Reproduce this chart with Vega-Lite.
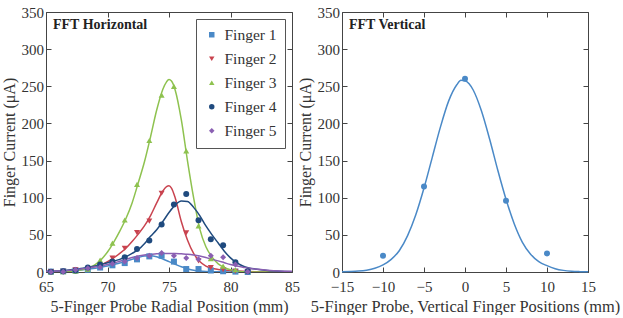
{
  "$schema": "https://vega.github.io/schema/vega-lite/v6.json",
  "padding": {"left": 0, "top": 4, "right": 0, "bottom": 0},
  "spacing": -4,
  "config": {
    "font": "Liberation Serif",
    "view": {"stroke": "#444", "strokeWidth": 1},
    "axis": {"grid": false, "domain": false, "labelFlush": false, "labelFontSize": 15, "titleFontSize": 16, "labelColor": "#333", "titleColor": "#333", "tickColor": "#444", "tickSize": -5, "labelPadding": 7.5, "titleFontWeight": "normal", "labelFont": "Liberation Serif", "titleFont": "Liberation Serif"},
    "axisBottom": {"labelPadding": 12},
    "legend": {"labelFont": "Liberation Serif", "titleFont": "Liberation Serif"},
    "title": {"font": "Liberation Serif", "fontSize": 14, "fontWeight": "bold", "color": "#222"}
  },
  "datasets": {
    "ptsH": [
      {"finger": "Finger 1", "pos": 65.4, "current": 0.5}, {"finger": "Finger 1", "pos": 66.4, "current": 1}, {"finger": "Finger 1", "pos": 67.4, "current": 2}, {"finger": "Finger 1", "pos": 68.4, "current": 3}, {"finger": "Finger 1", "pos": 69.4, "current": 6}, {"finger": "Finger 1", "pos": 70.4, "current": 9}, {"finger": "Finger 1", "pos": 71.4, "current": 12}, {"finger": "Finger 1", "pos": 72.4, "current": 17}, {"finger": "Finger 1", "pos": 73.4, "current": 21}, {"finger": "Finger 1", "pos": 74.4, "current": 22}, {"finger": "Finger 1", "pos": 75.4, "current": 14}, {"finger": "Finger 1", "pos": 76.4, "current": 4}, {"finger": "Finger 1", "pos": 77.4, "current": 4}, {"finger": "Finger 1", "pos": 78.4, "current": 2}, {"finger": "Finger 1", "pos": 79.4, "current": 1}, {"finger": "Finger 1", "pos": 80.4, "current": 0.5}, {"finger": "Finger 1", "pos": 81.4, "current": 0},
      {"finger": "Finger 2", "pos": 65.4, "current": 0.5}, {"finger": "Finger 2", "pos": 66.4, "current": 1}, {"finger": "Finger 2", "pos": 67.4, "current": 3}, {"finger": "Finger 2", "pos": 68.4, "current": 4}, {"finger": "Finger 2", "pos": 69.4, "current": 8}, {"finger": "Finger 2", "pos": 70.4, "current": 18.7}, {"finger": "Finger 2", "pos": 71.4, "current": 32}, {"finger": "Finger 2", "pos": 72.4, "current": 53}, {"finger": "Finger 2", "pos": 73.4, "current": 68.5}, {"finger": "Finger 2", "pos": 74.4, "current": 106}, {"finger": "Finger 2", "pos": 76.4, "current": 52.6}, {"finger": "Finger 2", "pos": 77.4, "current": 15}, {"finger": "Finger 2", "pos": 78.4, "current": 6}, {"finger": "Finger 2", "pos": 79.4, "current": 3}, {"finger": "Finger 2", "pos": 80.4, "current": 1}, {"finger": "Finger 2", "pos": 81.4, "current": 0.5},
      {"finger": "Finger 3", "pos": 65.4, "current": 0}, {"finger": "Finger 3", "pos": 66.4, "current": 0.5}, {"finger": "Finger 3", "pos": 67.4, "current": 1}, {"finger": "Finger 3", "pos": 68.4, "current": 4}, {"finger": "Finger 3", "pos": 69.4, "current": 16}, {"finger": "Finger 3", "pos": 70.4, "current": 39}, {"finger": "Finger 3", "pos": 71.4, "current": 70}, {"finger": "Finger 3", "pos": 72.4, "current": 118}, {"finger": "Finger 3", "pos": 73.4, "current": 177}, {"finger": "Finger 3", "pos": 74.4, "current": 238}, {"finger": "Finger 3", "pos": 75.4, "current": 250}, {"finger": "Finger 3", "pos": 76.4, "current": 163}, {"finger": "Finger 3", "pos": 77.4, "current": 62}, {"finger": "Finger 3", "pos": 78.4, "current": 18}, {"finger": "Finger 3", "pos": 79.4, "current": 8}, {"finger": "Finger 3", "pos": 80.4, "current": 3}, {"finger": "Finger 3", "pos": 81.4, "current": 1},
      {"finger": "Finger 4", "pos": 65.4, "current": 0.5}, {"finger": "Finger 4", "pos": 66.4, "current": 1}, {"finger": "Finger 4", "pos": 67.4, "current": 2}, {"finger": "Finger 4", "pos": 68.4, "current": 6}, {"finger": "Finger 4", "pos": 69.4, "current": 10}, {"finger": "Finger 4", "pos": 70.4, "current": 14}, {"finger": "Finger 4", "pos": 71.4, "current": 20}, {"finger": "Finger 4", "pos": 72.4, "current": 31}, {"finger": "Finger 4", "pos": 73.4, "current": 42.5}, {"finger": "Finger 4", "pos": 74.4, "current": 64}, {"finger": "Finger 4", "pos": 75.4, "current": 91}, {"finger": "Finger 4", "pos": 76.4, "current": 105}, {"finger": "Finger 4", "pos": 77.4, "current": 69.5}, {"finger": "Finger 4", "pos": 78.4, "current": 44}, {"finger": "Finger 4", "pos": 79.4, "current": 36}, {"finger": "Finger 4", "pos": 80.4, "current": 13}, {"finger": "Finger 4", "pos": 81.4, "current": 1},
      {"finger": "Finger 5", "pos": 65.4, "current": 0}, {"finger": "Finger 5", "pos": 66.4, "current": 0.5}, {"finger": "Finger 5", "pos": 67.4, "current": 3}, {"finger": "Finger 5", "pos": 68.4, "current": 5}, {"finger": "Finger 5", "pos": 69.4, "current": 6.5}, {"finger": "Finger 5", "pos": 70.4, "current": 11}, {"finger": "Finger 5", "pos": 71.4, "current": 14}, {"finger": "Finger 5", "pos": 72.4, "current": 19}, {"finger": "Finger 5", "pos": 73.4, "current": 22}, {"finger": "Finger 5", "pos": 74.4, "current": 25.5}, {"finger": "Finger 5", "pos": 75.4, "current": 22}, {"finger": "Finger 5", "pos": 76.4, "current": 18.7}, {"finger": "Finger 5", "pos": 77.4, "current": 17}, {"finger": "Finger 5", "pos": 78.4, "current": 22}, {"finger": "Finger 5", "pos": 79.4, "current": 20}, {"finger": "Finger 5", "pos": 80.4, "current": 10}, {"finger": "Finger 5", "pos": 81.4, "current": 0.5}
    ],
    "fitH": [
      {"curve": "Finger 1", "pos": 65, "current": 0.3}, {"curve": "Finger 1", "pos": 66, "current": 0.6}, {"curve": "Finger 1", "pos": 67, "current": 1.5}, {"curve": "Finger 1", "pos": 68, "current": 3}, {"curve": "Finger 1", "pos": 69, "current": 5}, {"curve": "Finger 1", "pos": 69.5, "current": 6.5}, {"curve": "Finger 1", "pos": 70, "current": 8}, {"curve": "Finger 1", "pos": 70.5, "current": 10}, {"curve": "Finger 1", "pos": 71, "current": 12}, {"curve": "Finger 1", "pos": 71.5, "current": 14.5}, {"curve": "Finger 1", "pos": 72, "current": 17}, {"curve": "Finger 1", "pos": 72.5, "current": 19.5}, {"curve": "Finger 1", "pos": 73, "current": 21.5}, {"curve": "Finger 1", "pos": 73.5, "current": 22}, {"curve": "Finger 1", "pos": 74, "current": 20.5}, {"curve": "Finger 1", "pos": 74.5, "current": 17.5}, {"curve": "Finger 1", "pos": 75, "current": 14}, {"curve": "Finger 1", "pos": 75.5, "current": 10.5}, {"curve": "Finger 1", "pos": 76, "current": 7}, {"curve": "Finger 1", "pos": 76.5, "current": 4.5}, {"curve": "Finger 1", "pos": 77, "current": 2.5}, {"curve": "Finger 1", "pos": 77.5, "current": 1.3}, {"curve": "Finger 1", "pos": 78, "current": 0.7}, {"curve": "Finger 1", "pos": 79, "current": 0.3}, {"curve": "Finger 1", "pos": 80, "current": 0.1}, {"curve": "Finger 1", "pos": 85, "current": 0},
      {"curve": "Finger 2", "pos": 65, "current": 0.5}, {"curve": "Finger 2", "pos": 66, "current": 1}, {"curve": "Finger 2", "pos": 67, "current": 2}, {"curve": "Finger 2", "pos": 68, "current": 4}, {"curve": "Finger 2", "pos": 69, "current": 7.5}, {"curve": "Finger 2", "pos": 69.5, "current": 10}, {"curve": "Finger 2", "pos": 70, "current": 14}, {"curve": "Finger 2", "pos": 70.5, "current": 19}, {"curve": "Finger 2", "pos": 71, "current": 25}, {"curve": "Finger 2", "pos": 71.5, "current": 32}, {"curve": "Finger 2", "pos": 72, "current": 41}, {"curve": "Finger 2", "pos": 72.5, "current": 51}, {"curve": "Finger 2", "pos": 73, "current": 62}, {"curve": "Finger 2", "pos": 73.5, "current": 76}, {"curve": "Finger 2", "pos": 74, "current": 93}, {"curve": "Finger 2", "pos": 74.5, "current": 109}, {"curve": "Finger 2", "pos": 74.8, "current": 115}, {"curve": "Finger 2", "pos": 75, "current": 116}, {"curve": "Finger 2", "pos": 75.2, "current": 113}, {"curve": "Finger 2", "pos": 75.5, "current": 100}, {"curve": "Finger 2", "pos": 76, "current": 68}, {"curve": "Finger 2", "pos": 76.5, "current": 43}, {"curve": "Finger 2", "pos": 77, "current": 25}, {"curve": "Finger 2", "pos": 77.5, "current": 14}, {"curve": "Finger 2", "pos": 78, "current": 8}, {"curve": "Finger 2", "pos": 78.5, "current": 5}, {"curve": "Finger 2", "pos": 79, "current": 3.5}, {"curve": "Finger 2", "pos": 80, "current": 2}, {"curve": "Finger 2", "pos": 81, "current": 1}, {"curve": "Finger 2", "pos": 82, "current": 0.5}, {"curve": "Finger 2", "pos": 85, "current": 0},
      {"curve": "Finger 3", "pos": 65, "current": 0}, {"curve": "Finger 3", "pos": 66, "current": 0.3}, {"curve": "Finger 3", "pos": 67, "current": 1}, {"curve": "Finger 3", "pos": 67.5, "current": 2}, {"curve": "Finger 3", "pos": 68, "current": 3.5}, {"curve": "Finger 3", "pos": 68.5, "current": 6}, {"curve": "Finger 3", "pos": 69, "current": 10}, {"curve": "Finger 3", "pos": 69.5, "current": 17}, {"curve": "Finger 3", "pos": 70, "current": 27}, {"curve": "Finger 3", "pos": 70.5, "current": 40}, {"curve": "Finger 3", "pos": 71, "current": 55}, {"curve": "Finger 3", "pos": 71.5, "current": 72}, {"curve": "Finger 3", "pos": 72, "current": 93}, {"curve": "Finger 3", "pos": 72.5, "current": 120}, {"curve": "Finger 3", "pos": 73, "current": 148}, {"curve": "Finger 3", "pos": 73.5, "current": 182}, {"curve": "Finger 3", "pos": 74, "current": 218}, {"curve": "Finger 3", "pos": 74.5, "current": 246}, {"curve": "Finger 3", "pos": 74.8, "current": 256}, {"curve": "Finger 3", "pos": 75, "current": 259}, {"curve": "Finger 3", "pos": 75.2, "current": 257}, {"curve": "Finger 3", "pos": 75.5, "current": 245}, {"curve": "Finger 3", "pos": 76, "current": 205}, {"curve": "Finger 3", "pos": 76.5, "current": 150}, {"curve": "Finger 3", "pos": 77, "current": 100}, {"curve": "Finger 3", "pos": 77.5, "current": 58}, {"curve": "Finger 3", "pos": 78, "current": 34}, {"curve": "Finger 3", "pos": 78.5, "current": 20}, {"curve": "Finger 3", "pos": 79, "current": 11}, {"curve": "Finger 3", "pos": 79.5, "current": 6}, {"curve": "Finger 3", "pos": 80, "current": 3}, {"curve": "Finger 3", "pos": 80.5, "current": 1.5}, {"curve": "Finger 3", "pos": 81, "current": 0.5}, {"curve": "Finger 3", "pos": 82, "current": 0}, {"curve": "Finger 3", "pos": 85, "current": 0},
      {"curve": "Finger 4", "pos": 65, "current": 1}, {"curve": "Finger 4", "pos": 66, "current": 1.5}, {"curve": "Finger 4", "pos": 67, "current": 3}, {"curve": "Finger 4", "pos": 68, "current": 5}, {"curve": "Finger 4", "pos": 69, "current": 8}, {"curve": "Finger 4", "pos": 70, "current": 12.5}, {"curve": "Finger 4", "pos": 71, "current": 17}, {"curve": "Finger 4", "pos": 71.5, "current": 20.5}, {"curve": "Finger 4", "pos": 72, "current": 25}, {"curve": "Finger 4", "pos": 72.5, "current": 30}, {"curve": "Finger 4", "pos": 73, "current": 38}, {"curve": "Finger 4", "pos": 73.5, "current": 48}, {"curve": "Finger 4", "pos": 74, "current": 57}, {"curve": "Finger 4", "pos": 74.5, "current": 68}, {"curve": "Finger 4", "pos": 75, "current": 80}, {"curve": "Finger 4", "pos": 75.5, "current": 90}, {"curve": "Finger 4", "pos": 76, "current": 95.5}, {"curve": "Finger 4", "pos": 76.5, "current": 95}, {"curve": "Finger 4", "pos": 77, "current": 87}, {"curve": "Finger 4", "pos": 77.5, "current": 76}, {"curve": "Finger 4", "pos": 78, "current": 62}, {"curve": "Finger 4", "pos": 78.5, "current": 50}, {"curve": "Finger 4", "pos": 79, "current": 39}, {"curve": "Finger 4", "pos": 79.5, "current": 28}, {"curve": "Finger 4", "pos": 80, "current": 19}, {"curve": "Finger 4", "pos": 80.5, "current": 12.5}, {"curve": "Finger 4", "pos": 81, "current": 8}, {"curve": "Finger 4", "pos": 81.5, "current": 5.5}, {"curve": "Finger 4", "pos": 82, "current": 4}, {"curve": "Finger 4", "pos": 83, "current": 2}, {"curve": "Finger 4", "pos": 84, "current": 1}, {"curve": "Finger 4", "pos": 85, "current": 0.5},
      {"curve": "Finger 5", "pos": 65, "current": 1}, {"curve": "Finger 5", "pos": 66, "current": 1.5}, {"curve": "Finger 5", "pos": 67, "current": 2.5}, {"curve": "Finger 5", "pos": 68, "current": 4.5}, {"curve": "Finger 5", "pos": 69, "current": 7}, {"curve": "Finger 5", "pos": 70, "current": 10}, {"curve": "Finger 5", "pos": 70.5, "current": 12}, {"curve": "Finger 5", "pos": 71, "current": 14.5}, {"curve": "Finger 5", "pos": 71.5, "current": 17}, {"curve": "Finger 5", "pos": 72, "current": 19.5}, {"curve": "Finger 5", "pos": 72.5, "current": 21.5}, {"curve": "Finger 5", "pos": 73, "current": 23}, {"curve": "Finger 5", "pos": 73.5, "current": 24}, {"curve": "Finger 5", "pos": 74, "current": 24.5}, {"curve": "Finger 5", "pos": 74.5, "current": 25}, {"curve": "Finger 5", "pos": 75, "current": 25}, {"curve": "Finger 5", "pos": 75.5, "current": 25}, {"curve": "Finger 5", "pos": 76, "current": 24.5}, {"curve": "Finger 5", "pos": 76.5, "current": 24}, {"curve": "Finger 5", "pos": 77, "current": 23}, {"curve": "Finger 5", "pos": 77.5, "current": 21.5}, {"curve": "Finger 5", "pos": 78, "current": 19.5}, {"curve": "Finger 5", "pos": 78.5, "current": 17}, {"curve": "Finger 5", "pos": 79, "current": 15}, {"curve": "Finger 5", "pos": 79.5, "current": 12.5}, {"curve": "Finger 5", "pos": 80, "current": 10}, {"curve": "Finger 5", "pos": 80.5, "current": 8}, {"curve": "Finger 5", "pos": 81, "current": 6.5}, {"curve": "Finger 5", "pos": 81.5, "current": 5}, {"curve": "Finger 5", "pos": 82, "current": 4}, {"curve": "Finger 5", "pos": 83, "current": 2.5}, {"curve": "Finger 5", "pos": 84, "current": 1.5}, {"curve": "Finger 5", "pos": 85, "current": 1}
    ],
    "ptsV": [
      {"pos": -10, "current": 22}, {"pos": -5, "current": 115}, {"pos": 0, "current": 260}, {"pos": 5, "current": 96}, {"pos": 10, "current": 25}
    ],
    "fitV": [
      {"pos": -15, "current": 0.3}, {"pos": -14, "current": 0.6}, {"pos": -13, "current": 1.2}, {"pos": -12, "current": 2.5}, {"pos": -11, "current": 5}, {"pos": -10, "current": 9.5}, {"pos": -9, "current": 17}, {"pos": -8, "current": 29}, {"pos": -7, "current": 49}, {"pos": -6, "current": 77}, {"pos": -5, "current": 113}, {"pos": -4, "current": 154}, {"pos": -3, "current": 195}, {"pos": -2, "current": 230}, {"pos": -1, "current": 252}, {"pos": -0.5, "current": 258}, {"pos": 0, "current": 257.6}, {"pos": 0.5, "current": 253.5}, {"pos": 1, "current": 245}, {"pos": 2, "current": 217}, {"pos": 3, "current": 179}, {"pos": 4, "current": 137}, {"pos": 5, "current": 98}, {"pos": 6, "current": 65}, {"pos": 7, "current": 40}, {"pos": 8, "current": 24}, {"pos": 9, "current": 14}, {"pos": 10, "current": 8.5}, {"pos": 11, "current": 4.5}, {"pos": 12, "current": 2.2}, {"pos": 13, "current": 1}, {"pos": 14, "current": 0.5}, {"pos": 15, "current": 0.3}
    ]
  },
  "hconcat": [
    {
      "width": 246, "height": 260,
      "title": {"text": "FFT Horizontal", "anchor": "start", "frame": "group", "offset": -27, "dx": 7},
      "layer": [
        {
          "data": {"name": "fitH"},
          "mark": {"type": "line", "strokeWidth": 1.5, "interpolate": "monotone", "clip": true},
          "encoding": {
            "x": {"field": "pos", "type": "quantitative", "scale": {"domain": [65, 85], "nice": false},
                  "axis": {"orient": "bottom", "values": [65, 70, 75, 80, 85], "title": "5-Finger Probe Radial Position (mm)", "titlePadding": 4}},
            "y": {"field": "current", "type": "quantitative", "scale": {"domain": [0, 350], "nice": false},
                  "axis": {"orient": "left", "values": [0, 50, 100, 150, 200, 250, 300, 350], "title": "Finger Current (μA)", "titlePadding": 4}},
            "stroke": {"field": "curve", "type": "nominal", "legend": null,
                      "scale": {"domain": ["Finger 1", "Finger 2", "Finger 3", "Finger 4", "Finger 5"], "range": ["#4a89c7", "#c9434f", "#8ec24f", "#1f4a7e", "#8a5fb2"]}}
          }
        },
        {
          "data": {"name": "ptsH"},
          "mark": {"type": "point", "filled": true, "size": 36, "opacity": 1},
          "encoding": {
            "x": {"field": "pos", "type": "quantitative", "axis": {"orient": "top", "values": [65, 70, 75, 80, 85], "labels": false, "title": null}},
            "y": {"field": "current", "type": "quantitative", "axis": {"orient": "right", "values": [0, 50, 100, 150, 200, 250, 300, 350], "labels": false, "title": null}},
            "color": {"field": "finger", "type": "nominal", "title": null,
                      "scale": {"domain": ["Finger 1", "Finger 2", "Finger 3", "Finger 4", "Finger 5"], "range": ["#4a89c7", "#c9434f", "#8ec24f", "#1f4a7e", "#8a5fb2"]},
                      "legend": {"orient": "top-right", "offset": 7, "padding": 8, "strokeColor": "#555", "fillColor": "white", "labelFont": "Liberation Serif", "labelFontSize": 15.5, "labelColor": "#333", "symbolSize": 30, "rowPadding": 7, "labelOffset": 5}},
            "shape": {"field": "finger", "type": "nominal", "title": null,
                      "scale": {"domain": ["Finger 1", "Finger 2", "Finger 3", "Finger 4", "Finger 5"], "range": ["square", "triangle-down", "triangle-up", "circle", "diamond"]},
                      "legend": {"orient": "top-right", "offset": 7, "padding": 8, "strokeColor": "#555", "fillColor": "white", "labelFont": "Liberation Serif", "labelFontSize": 15.5, "labelColor": "#333", "symbolSize": 30, "rowPadding": 7, "labelOffset": 5}}
          }
        }
      ],
      "resolve": {"axis": {"x": "independent", "y": "independent"}, "legend": {"color": "independent", "shape": "independent"}}
    },
    {
      "width": 246, "height": 260,
      "title": {"text": "FFT Vertical", "anchor": "start", "frame": "group", "offset": -27, "dx": 7},
      "layer": [
        {
          "data": {"name": "fitV"},
          "mark": {"type": "line", "strokeWidth": 1.5, "interpolate": "monotone", "color": "#4a89c7"},
          "encoding": {
            "x": {"field": "pos", "type": "quantitative", "scale": {"domain": [-15, 15], "nice": false},
                  "axis": {"orient": "bottom", "values": [-15, -10, -5, 0, 5, 10, 15], "title": "5-Finger Probe, Vertical Finger Positions (mm)", "titlePadding": 4, "titleFontSize": 16.4}},
            "y": {"field": "current", "type": "quantitative", "scale": {"domain": [0, 350], "nice": false},
                  "axis": {"orient": "left", "values": [0, 50, 100, 150, 200, 250, 300, 350], "title": "Finger Current (μA)", "titlePadding": 4}}
          }
        },
        {
          "data": {"name": "ptsV"},
          "mark": {"type": "point", "filled": true, "size": 36, "opacity": 1, "shape": "circle", "color": "#4a89c7"},
          "encoding": {
            "x": {"field": "pos", "type": "quantitative", "axis": {"orient": "top", "values": [-15, -10, -5, 0, 5, 10, 15], "labels": false, "title": null}},
            "y": {"field": "current", "type": "quantitative", "axis": {"orient": "right", "values": [0, 50, 100, 150, 200, 250, 300, 350], "labels": false, "title": null}}
          }
        }
      ],
      "resolve": {"axis": {"x": "independent", "y": "independent"}}
    }
  ]
}
